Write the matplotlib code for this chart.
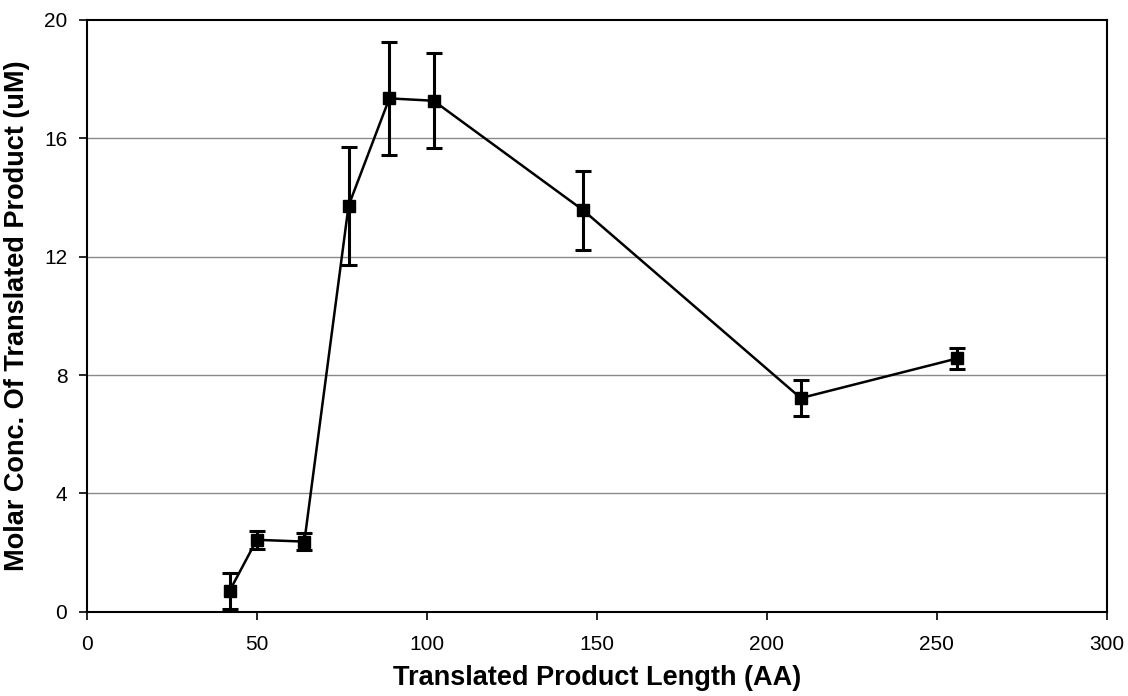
import matplotlib
matplotlib.use('Agg')
from matplotlib import pyplot

# Values.
LENGTHS = [42, 50, 64, 77, 89, 102, 146, 210, 256]
CONC = [0.7, 2.43, 2.37, 13.72, 17.35, 17.27, 13.57, 7.22, 8.56]
ERRORS = [0.6, 0.3, 0.3, 2.0, 1.9, 1.6, 1.33, 0.6, 0.37]
X_TICKS = [0, 50, 100, 150, 200, 250, 300]
Y_TICKS = [0, 4, 8, 12, 16, 20]

FONT = 'Liberation Sans'


def main():
  pyplot.rcParams['font.family'] = FONT
  fig = pyplot.figure(figsize=(11.28, 6.96), dpi=100)
  ax = fig.add_axes([0.0769, 0.1211, 0.9043, 0.8502])

  for y in Y_TICKS[1:-1]:
    ax.axhline(y, color='#8a8a8a', linewidth=1.0, zorder=1)

  ax.errorbar(LENGTHS, CONC, yerr=ERRORS, color='black', linewidth=1.8,
              marker='s', markersize=8.5, elinewidth=2.2, capsize=6,
              capthick=2.2, zorder=3)

  ax.set_xlim(0, 300)
  ax.set_ylim(0, 20)
  ax.set_xticks(X_TICKS)
  ax.set_yticks(Y_TICKS)
  ax.tick_params(direction='out', length=6, width=1.2, labelsize=15)
  ax.tick_params(axis='x', pad=11)
  ax.tick_params(axis='y', pad=8)
  for spine in ax.spines.values():
    spine.set_linewidth(1.5)

  ax.set_xlabel('Translated Product Length (AA)', fontsize=19.5,
                fontweight='bold', labelpad=8)
  ax.set_ylabel('Molar Conc. Of Translated Product (uM)', fontsize=19.5,
                fontweight='bold', labelpad=10)

  fig.savefig('out.png', dpi=100)


if __name__ == '__main__':
  main()
